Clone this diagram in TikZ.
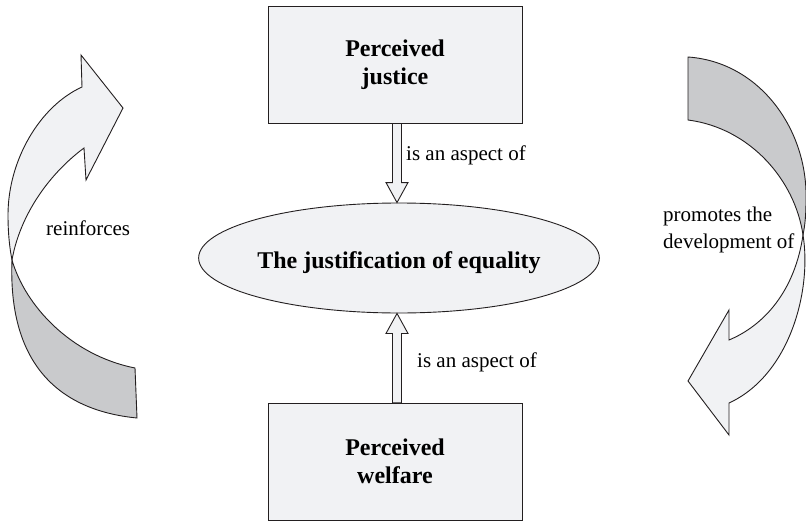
\documentclass[tikz,border=0pt]{standalone}
\usepackage{fontspec}
\setmainfont{Liberation Serif}
\usetikzlibrary{shapes.geometric,calc}
\definecolor{lightfill}{RGB}{241,242,244}
\definecolor{darkfill}{RGB}{201,202,204}
\definecolor{linec}{RGB}{35,31,32}
\begin{document}
\begin{tikzpicture}[x=1pt,y=-1pt,
 outl/.style={draw=linec,line width=0.9pt,line join=miter},
 boxnode/.style={outl,fill=lightfill,minimum width=254pt,minimum height=117pt,inner sep=0pt,align=center,font=\fontsize{24}{28}\selectfont\bfseries},
 ellnode/.style={outl,ellipse,fill=lightfill,minimum width=368pt,minimum height=110pt,inner sep=0pt,font=\fontsize{24}{28}\selectfont\bfseries,text height=20pt,text depth=0pt},
 lbl/.style={font=\fontsize{21}{27}\selectfont,inner sep=0pt,anchor=base west},
 blockarrow/.style={outl,fill=lightfill}]

\useasboundingbox (0,0) rectangle (806,522);

% curved arrow on the left (reinforces)
\draw[outl,fill=darkfill] (12,260) .. controls (25,305) and (70,355) .. (135,368)
  -- (137,418) .. controls (55,410) and (8,360) .. (12,260) -- cycle;
\draw[outl,fill=lightfill] (82,87) .. controls (40,106) and (8,160) .. (8,215)
  .. controls (8,235) and (10,250) .. (12,260)
  .. controls (20,215) and (49,174) .. (84,148)
  -- (86,180) -- (123,108) -- (81,55) -- cycle;

% curved arrow on the right (promotes the development of)
\draw[outl,fill=darkfill] (688,57) .. controls (760,62) and (808,130) .. (806,200)
  .. controls (806,215) and (805,225) .. (803,235)
  .. controls (795,180) and (750,128) .. (688,120) -- cycle;
\draw[outl,fill=lightfill] (803,235) .. controls (812,290) and (790,375) .. (729,403)
  -- (729,435) -- (688,381) -- (729,310) -- (729,340)
  .. controls (765,325) and (795,290) .. (803,235) -- cycle;

% nodes
\node[boxnode] (pj) at (395,64.5) {Perceived\\justice};
\node[boxnode] (pw) at (395,461.7) {Perceived\\welfare};
\node[ellnode] (eq) at (399,258) {The justification of equality};

% block arrows
\coordinate (t1) at ($(eq.north)+(-2,0)$);
\coordinate (t1l) at ($(t1)+(-4.5,0)$);
\coordinate (t1r) at ($(t1)+(4.5,0)$);
\draw[blockarrow] (t1) -- ($(t1)+(-11,-20)$) -- ($(t1)+(-4.5,-20)$) -- (t1l |- pj.south)
  -- (t1r |- pj.south) -- ($(t1)+(4.5,-20)$) -- ($(t1)+(11,-20)$) -- cycle;

\coordinate (t2) at ($(eq.south)+(-2,0)$);
\coordinate (t2l) at ($(t2)+(-4.5,0)$);
\coordinate (t2r) at ($(t2)+(4.5,0)$);
\draw[blockarrow] (t2) -- ($(t2)+(-11,20)$) -- ($(t2)+(-4.5,20)$) -- (t2l |- pw.north)
  -- (t2r |- pw.north) -- ($(t2)+(4.5,20)$) -- ($(t2)+(11,20)$) -- cycle;

% labels
\node[lbl] (l1) at (406,160) {is an aspect of};
\node[lbl] (l2) at (417,367) {is an aspect of};
\node[lbl] (l3) at (46,235) {reinforces};
\node[lbl] (l4a) at (663,221) {promotes the};
\node[lbl] (l4b) at (663,248) {development of};
\end{tikzpicture}
\end{document}
